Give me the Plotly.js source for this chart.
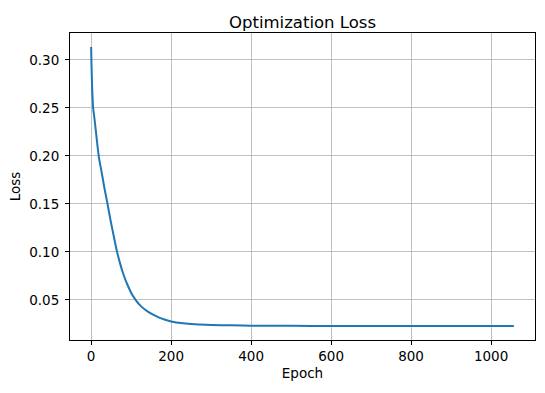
<!DOCTYPE html>
<html>
<head>
<meta charset="utf-8">
<script src="https://cdn.plot.ly/plotly-3.0.1.min.js"></script>
<style>
  html, body { margin: 0; padding: 0; background: #fff; }
  #chart { width: 545px; height: 393px; }
</style>
</head>
<body>
<div id="chart"></div>
<script>
// Training loss recorded per epoch
const epochs = [0, 1, 2, 3, 5, 8, 12, 16, 20, 24, 28, 33, 41, 48, 56, 64, 72, 80, 90,
  100, 112, 125, 140, 155, 170, 185, 200, 230, 260, 300, 350, 400, 500, 600, 700,
  800, 900, 1000, 1057];
const loss = [0.3135, 0.293, 0.278, 0.266, 0.250, 0.240, 0.225, 0.210, 0.197, 0.188,
  0.179, 0.167, 0.150, 0.134, 0.1175, 0.1015, 0.0885, 0.0775, 0.0665, 0.0575, 0.0495,
  0.0432, 0.0383, 0.0345, 0.0315, 0.0292, 0.0274, 0.0255, 0.0245, 0.0238, 0.0234,
  0.0231, 0.0229, 0.0228, 0.0227, 0.0227, 0.0227, 0.0227, 0.0227];
const xTicks = [0, 200, 400, 600, 800, 1000];
const yTicks = [0.05, 0.10, 0.15, 0.20, 0.25, 0.30];

// 5% padding on each side of the data extent
function padded(arr) {
  const lo = Math.min(...arr), hi = Math.max(...arr);
  const m = (hi - lo) * 0.05;
  return [lo - m, hi + m];
}

const font = "DejaVu Sans, sans-serif";
const axisCommon = {
  showline: true, mirror: true, linecolor: "#000", linewidth: 1,
  ticks: "outside", ticklen: 4, tickwidth: 1, tickcolor: "#000",
  showgrid: true, gridcolor: "#b0b0b0", gridwidth: 0.8,
  zeroline: false, tickfont: { family: font, size: 13.5, color: "#000" },
  tickmode: "array", automargin: false
};

const trace = {
  x: epochs, y: loss, type: "scatter", mode: "lines",
  line: { color: "#1f77b4", width: 2, shape: "spline", smoothing: 0.8 },
  hoverinfo: "skip"
};

const layout = {
  width: 545, height: 393,
  margin: { l: 70, r: 10, t: 33, b: 53 },
  paper_bgcolor: "#fff", plot_bgcolor: "#fff",
  showlegend: false,
  title: {
    text: "Optimization Loss",
    font: { family: font, size: 16.5, color: "#000" },
    x: 0.5, xref: "paper", xanchor: "center",
    y: 1, yref: "paper", yanchor: "bottom", pad: { b: 5 }
  },
  xaxis: Object.assign({}, axisCommon, {
    range: padded(epochs),
    tickvals: xTicks, ticktext: xTicks.map(String),
    title: { text: "Epoch", font: { family: font, size: 13.5, color: "#000" }, standoff: 5 }
  }),
  yaxis: Object.assign({}, axisCommon, {
    range: padded(loss),
    tickvals: yTicks, ticktext: yTicks.map(v => v.toFixed(2)),
    ticklabelstandoff: 3,
    title: { text: "Loss", font: { family: font, size: 13.5, color: "#000" }, standoff: 5 }
  })
};

Plotly.newPlot("chart", [trace], layout, { staticPlot: true, displayModeBar: false });
</script>
</body>
</html>
